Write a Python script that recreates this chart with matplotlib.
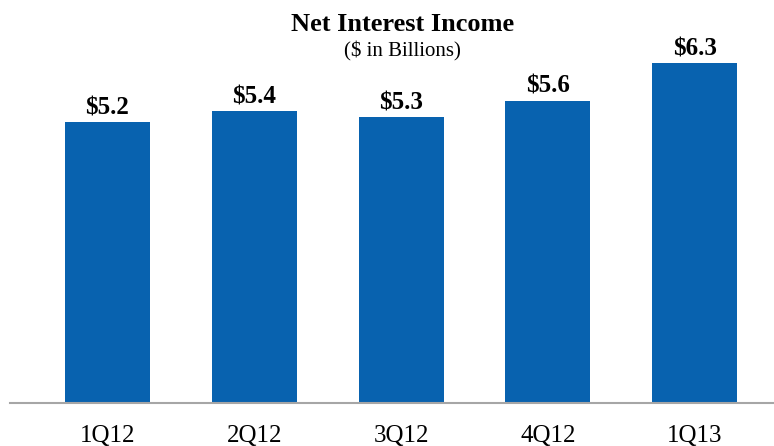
import matplotlib
matplotlib.use("Agg")
import matplotlib.pyplot as plt

# quarterly net interest income, $ billions
quarters = ["1Q12", "2Q12", "3Q12", "4Q12", "1Q13"]
nii = [5.2, 5.4, 5.3, 5.6, 6.3]
labels = ["$5.2", "$5.4", "$5.3", "$5.6", "$6.3"]

plt.rcParams["font.family"] = ["Liberation Serif", "DejaVu Serif"]

fig = plt.figure(figsize=(7.74, 4.46), dpi=100)
ax = fig.add_axes([10 / 774, 43 / 446, 764 / 774, 403 / 446])

x = range(len(quarters))
ax.bar(x, nii, width=0.58, color="#0862AF")

for xi, v, lab in zip(x, nii, labels):
    ax.annotate(lab, (xi, v), xytext=(0, 2), textcoords="offset points",
                ha="center", va="bottom", fontsize=18, fontweight="bold")

ax.set_xlim(-0.664, 4.54)
ax.set_ylim(0, 403 / 54)
ax.set_xticks(list(x))
ax.set_xticklabels(quarters, fontsize=18)
ax.tick_params(axis="x", length=0, pad=16)
ax.set_yticks([])
for s in ["top", "right", "left"]:
    ax.spines[s].set_visible(False)
ax.spines["bottom"].set_color("#A6A6A6")
ax.spines["bottom"].set_linewidth(1.5)

fig.text(403 / 774, 1 - 31 / 446, "Net Interest Income", ha="center",
         va="baseline", fontsize=19, fontweight="bold")
fig.text(402 / 774, 1 - 56 / 446, "($ in Billions)", ha="center",
         va="baseline", fontsize=15)

fig.savefig("out.png", dpi=100)
